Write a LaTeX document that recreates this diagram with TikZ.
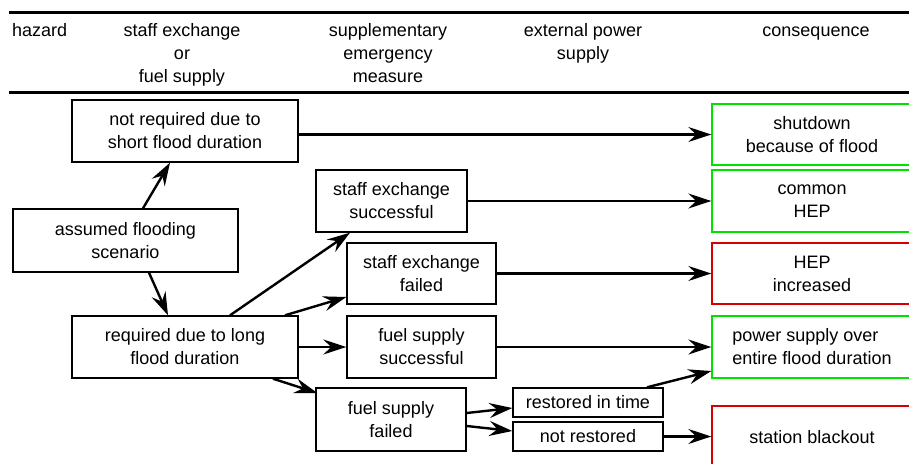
\documentclass[tikz,border=0pt]{standalone}
\usepackage{fontspec}
\setmainfont{Liberation Sans}
\usetikzlibrary{arrows.meta,calc}
\definecolor{okgreen}{RGB}{0,225,0}
\definecolor{badred}{RGB}{215,0,0}
\begin{document}
\begin{tikzpicture}[x=1pt,y=-1pt,
  box/.style={draw, line width=1.4pt, inner sep=0pt, align=center, font=\fontsize{18}{23}\selectfont},
  good/.style={box, draw=okgreen, minimum width=200pt, minimum height=62pt},
  bad/.style={box, draw=badred, minimum width=200pt, minimum height=62pt},
  arr/.style={line width=2.4pt, -{Stealth[length=23pt,width=15pt,inset=8pt]}},
  head/.style={inner sep=0pt, align=center, anchor=north, font=\fontsize{18}{23}\selectfont},
  rule/.style={line width=3pt}]
\useasboundingbox (0,0) rectangle (909,463);

% header
\coordinate (r1a) at (9,12);  \coordinate (r1b) at (915,12);
\coordinate (r2a) at (9,92);  \coordinate (r2b) at (915,92);
\draw[rule] (r1a) -- (r1b);
\draw[rule] (r2a) -- (r2b);
\node[head, anchor=north west] (h1) at (12,20) {\strut hazard};
\node[head] (h2) at (182,20) {\strut staff exchange\\or\\fuel supply};
\node[head] (h3) at (388,20) {\strut supplementary\\emergency\\measure};
\node[head] (h4) at (583,20) {\strut external power\\supply};
\node[head] (h5) at (816,20) {\strut consequence};

% boxes
\node[box, minimum width=226pt, minimum height=62pt] (notreq) at (185,131) {not required due to\\short flood duration};
\node[box, minimum width=225pt, minimum height=63pt] (assumed) at (125.5,240.5) {assumed flooding\\scenario};
\node[box, minimum width=226pt, minimum height=62pt] (required) at (185,347) {required due to long\\flood duration};
\node[box, minimum width=151pt, minimum height=62pt] (sesucc) at (391.5,201) {staff exchange\\successful};
\node[box, minimum width=149pt, minimum height=61pt] (sefail) at (421.5,273.5) {staff exchange\\failed};
\node[box, minimum width=149pt, minimum height=62pt] (fsucc) at (421.5,347) {fuel supply\\successful};
\node[box, minimum width=150pt, minimum height=63pt] (ffail) at (391,419.5) {fuel supply\\failed};
\node[box, minimum width=150pt, minimum height=29pt] (restored) at (588,402.5) {restored in time};
\node[box, minimum width=150pt, minimum height=29pt] (notrest) at (588,436.5) {not restored};

% consequences
\node[good, minimum height=61pt] (shutdown) at (812,134.5) {shutdown\\because of flood};
\node[good] (common) at (812,201) {common\\HEP};
\node[bad, minimum height=61pt] (hepinc) at (812,273.5) {HEP\\increased};
\node[good, align=left] (power) at (812,347) {power supply over\\entire flood duration};
\node[bad] (blackout) at (812,437) {station blackout};

% connectors
\draw[arr] (notreq.east |- shutdown.west) -- (shutdown.west);
\draw[arr] (sesucc.east) -- (common.west);
\draw[arr] (sefail.east) -- (hepinc.west);
\draw[arr] (fsucc.east) -- (power.west);
\draw[arr] ([xshift=17.5pt]assumed.north) -- ([xshift=-15pt]notreq.south);
\draw[arr] ([xshift=23.5pt]assumed.south) -- ([xshift=-17pt]required.north);
\draw[arr] ([xshift=45pt]required.north) -- ([xshift=-41.5pt]sesucc.south);
\draw[arr] ([xshift=100pt]required.north) -- ([yshift=-23.5pt]sefail.west);
\draw[arr] (required.east) -- (fsucc.west);
\draw[arr] ([xshift=88pt]required.south) -- ([xshift=2pt,yshift=26.5pt]ffail.west);
\draw[arr] ([yshift=6.5pt]ffail.east) -- ([yshift=-5.5pt]restored.west);
\draw[arr] ([yshift=-6.5pt]ffail.east) -- ([yshift=5.5pt]notrest.west);
\draw[arr] ([xshift=59pt]restored.north) -- ([yshift=-24pt]power.west);
\draw[arr] (notrest.east) -- (notrest.east -| blackout.west);
\end{tikzpicture}
\end{document}
